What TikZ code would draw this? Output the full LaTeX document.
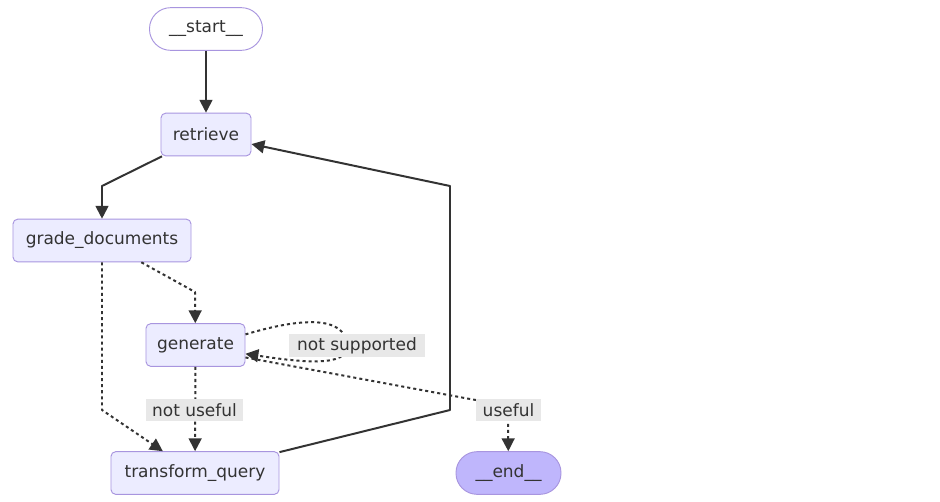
\documentclass[tikz,border=0pt]{standalone}
\usepackage{fontspec}
\setmainfont{DejaVu Sans}
\usetikzlibrary{arrows.meta}
\definecolor{boxfill}{HTML}{ECECFF}
\definecolor{boxline}{HTML}{A895DF}
\definecolor{endfill}{HTML}{BFB6FC}
\definecolor{edgecol}{HTML}{333333}
\definecolor{labelbg}{HTML}{E8E8E8}
\begin{document}
\begin{tikzpicture}[x=0.03cm,y=-0.03cm,line join=round,
	every node/.style={font=\fontsize{14.5}{16}\selectfont,text=edgecol},
	box/.style={draw=boxline,fill=boxfill,line width=0.8pt,rounded corners=4pt,minimum height=1.28cm,inner sep=0pt},
	pill/.style={box,rounded corners=18pt},
	flow/.style={-{Triangle[length=11pt,width=11pt]},draw=edgecol,line width=1.7pt},
	cond/.style={flow,dash pattern=on 2.6pt off 2.6pt},
	tag/.style={fill=labelbg,inner sep=0pt,minimum height=0.68cm}]
	\useasboundingbox (0,0) rectangle (940,502);
	% nodes
	\node[pill,fill=white,minimum width=3.39cm] (start) at (206,29) {\_\_start\_\_};
	\node[box,minimum width=2.7cm] (retrieve) at (206,134.5) {retrieve};
	\node[box,minimum width=5.34cm] (grade) at (102,240.5) {grade\_documents};
	\node[box,minimum width=2.97cm] (generate) at (195.5,345) {generate};
	\node[box,minimum width=5.04cm] (transform) at (195,473) {transform\_query};
	\node[pill,fill=endfill,minimum width=3.15cm] (end) at (508.5,473) {\_\_end\_\_};
	% edges
	\draw[flow] (start) -- (retrieve);
	\draw[flow] (retrieve) -- (102,186) -- (grade);
	\draw[cond] (grade) -- (195,292) -- (generate);
	\draw[cond] (grade) -- (102,410) -- (transform);
	\draw[cond] (generate) -- (transform);
	\draw[cond] (generate.12) .. controls (300,318) and (345,315) .. (347,345) .. controls (349,368) and (300,362) .. (generate.-10);
	\draw[cond] (generate.-14) -- (470,399) .. controls (500,404) and (508,406) .. (508,420) -- (end);
	\draw[flow] (transform) -- (450,410) -- (450,186) -- (retrieve);
	% edge labels
	\node[tag,minimum width=4.08cm] (notsup) at (357,345.5) {not supported};
	\node[tag,minimum width=2.91cm] (notuse) at (194.5,410) {not useful};
	\node[tag,minimum width=1.95cm] (use) at (508.5,410) {useful};
\end{tikzpicture}
\end{document}
